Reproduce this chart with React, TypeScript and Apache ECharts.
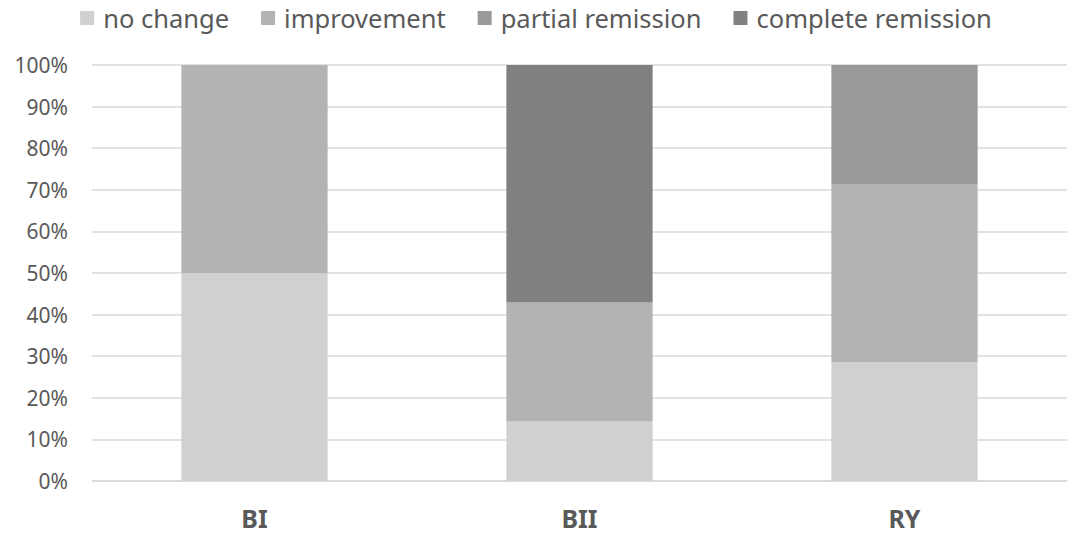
import React, { useEffect, useRef } from "react";
import * as echarts from "echarts";

const categories = ["BI", "BII", "RY"];
const seriesNames = ["no change", "improvement", "partial remission", "complete remission"];
const noChange = [50, 14.3, 28.6];
const improvement = [50, 28.6, 42.8];
const partialRemission = [0, 0, 28.6];
const completeRemission = [0, 57.1, 0];
const colors = ["#d0d0d0", "#b3b3b3", "#999999", "#808080"];

export default function App() {
  const ref = useRef<HTMLDivElement>(null);
  useEffect(() => {
    const chart = echarts.init(ref.current!, null, { renderer: "svg" });
    const values = [noChange, improvement, partialRemission, completeRemission];
    chart.setOption({
      animation: false,
      textStyle: { fontFamily: "Noto Sans" },
      legend: {
        top: 0,
        left: "center",
        itemWidth: 14,
        itemHeight: 14,
        itemGap: 32,
        icon: "rect",
        textStyle: { fontSize: 25.5, color: "#595959", fontFamily: "Noto Sans", padding: [0, 0, 0, 4] },
        data: seriesNames,
      },
      grid: { left: 92, right: 5, top: 65, bottom: 54, containLabel: false },
      xAxis: {
        type: "category",
        data: categories,
        axisTick: { show: false },
        axisLine: { show: true, lineStyle: { color: "#d9d9d9", width: 1.5 } },
        axisLabel: { fontSize: 25, fontWeight: "bold", color: "#595959", margin: 24 },
      },
      yAxis: {
        type: "value",
        min: 0,
        max: 100,
        interval: 10,
        axisLabel: { formatter: "{value}%", fontSize: 21, color: "#595959", margin: 24 },
        splitLine: { lineStyle: { color: "#d9d9d9", width: 1.5 } },
        axisLine: { show: false },
        axisTick: { show: false },
      },
      series: seriesNames.map((name, i) => ({
        name,
        type: "bar",
        stack: "total",
        barWidth: "45%",
        data: values[i],
        itemStyle: { color: colors[i] },
      })),
    });
    return () => chart.dispose();
  }, []);
  return <div ref={ref} style={{ width: 1072, height: 535, position: "absolute", left: 0, top: 0 }} />;
}
